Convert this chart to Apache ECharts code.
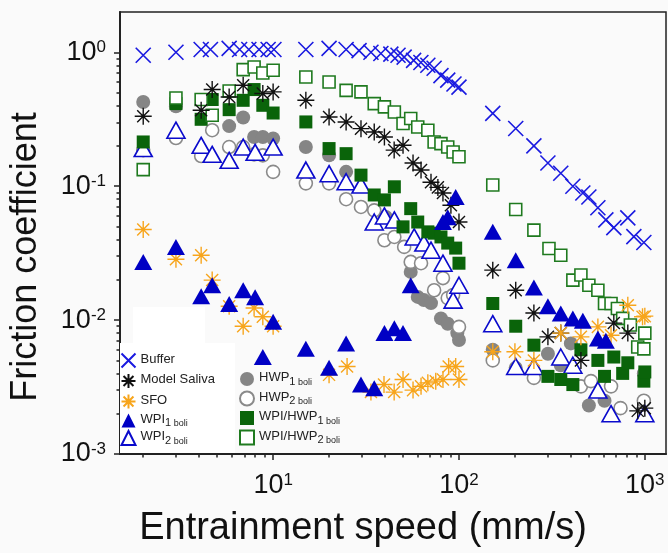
<!DOCTYPE html>
<html lang="en">
<head>
    <meta charset="UTF-8">
    <script src="https://cdn.jsdelivr.net/npm/echarts@6/dist/echarts.min.js"></script>
    <style>
        * {
            margin: 0;
            padding: 0;
        }

        body {
            background-color: #fafafa;
        }

        #main {
            width: 668px;
            height: 553px;
        }
    </style>
    <title>Friction coefficient</title>
</head>
<body>
<div id="main"></div>
<script>
    // [speed mm/s, friction coefficient]
    var buffer = [[2.0, 0.95], [3.0, 1.0], [4.1, 1.05], [4.6, 1.05], [5.8, 1.07], [6.6, 1.05], [7.4, 1.05], [8.4, 1.05],
        [9.4, 1.05], [10.1, 1.05], [15, 1.05], [20, 1.07], [24.7, 1.05], [29, 1.03], [33.6, 1.0], [38, 0.98], [43, 0.97],
        [47, 0.95], [50.7, 0.92], [57, 0.87], [62.4, 0.84], [68, 0.80], [73.5, 0.76], [80, 0.67], [87, 0.62], [94, 0.58],
        [100, 0.55], [152, 0.35], [202, 0.27], [253, 0.20], [301, 0.149], [353, 0.125], [410, 0.10], [464, 0.089],
        [500, 0.083], [559, 0.069], [617, 0.056], [681, 0.049], [810, 0.058], [873, 0.042], [988, 0.038]];

    var saliva = [[2.0, 0.333], [4.1, 0.369], [4.7, 0.527], [5.8, 0.464], [6.9, 0.567], [8.8, 0.492], [10, 0.506],
        [15, 0.438], [20, 0.329], [24.7, 0.302], [29.7, 0.269], [35, 0.254], [39.7, 0.233], [44.8, 0.186], [50, 0.202],
        [56.6, 0.149], [62.5, 0.132], [70.7, 0.107], [77, 0.098], [82, 0.089], [90.5, 0.072], [100, 0.054],
        [152, 0.0236], [202, 0.0167], [253, 0.0113], [301, 0.0075], [353, 0.0080], [453, 0.0050], [681, 0.0095],
        [810, 0.0080], [916, 0.0021], [1000, 0.0022]];

    var sfo = [[2.0, 0.0475], [3.0, 0.0285], [4.1, 0.0305], [4.7, 0.0199], [5.8, 0.0127], [6.9, 0.0090], [7.9, 0.0123],
        [8.8, 0.0106], [10, 0.0090], [20, 0.0039], [25, 0.0045], [33.6, 0.0029], [39.5, 0.0033], [44.8, 0.0029],
        [50, 0.0036], [56.6, 0.0030], [62.5, 0.0032], [68, 0.0034], [75, 0.0035], [82, 0.0036], [88, 0.0045],
        [96, 0.0045], [100, 0.0036], [152, 0.0058], [200, 0.0058], [253, 0.0050], [353, 0.0080], [453, 0.0075],
        [559, 0.0089], [658, 0.0077], [810, 0.0129], [972, 0.0106], [1000, 0.0107]];

    var wpi1 = [[2.0, 0.0272], [3.0, 0.0352], [4.1, 0.0151], [4.7, 0.0182], [5.8, 0.0132], [6.9, 0.0167], [8.0, 0.0148],
        [8.8, 0.0053], [10, 0.0097], [15, 0.0061], [20, 0.0044], [24.7, 0.0067], [29.7, 0.0033], [35, 0.0031],
        [39.7, 0.0080], [44.9, 0.0087], [50, 0.0080], [55, 0.0182], [82, 0.054], [87, 0.0587], [96, 0.083],
        [152, 0.0456], [202, 0.0280], [253, 0.0175], [301, 0.0127], [353, 0.0112], [410, 0.0103], [464, 0.0099],
        [559, 0.0073], [617, 0.0070]];

    var wpi2 = [[2.0, 0.191], [3.0, 0.262], [4.1, 0.202], [4.7, 0.173], [5.8, 0.156], [6.9, 0.196], [8.0, 0.179],
        [10, 0.196], [15, 0.132], [20, 0.124], [24.7, 0.108], [29.7, 0.102], [35, 0.054], [39.7, 0.060], [44.9, 0.056],
        [57.4, 0.0418], [64.7, 0.0376], [70.7, 0.0333], [82, 0.0266], [93, 0.0141], [100, 0.0182], [152, 0.0094],
        [202, 0.0045], [253, 0.0045], [353, 0.0053], [410, 0.0046], [559, 0.0030], [658, 0.0020], [1000, 0.0020]];

    var hwp1 = [[2.0, 0.426], [3.0, 0.395], [5.8, 0.281], [6.9, 0.326], [7.9, 0.233], [8.8, 0.233], [10, 0.227],
        [15, 0.196], [20, 0.170], [24.7, 0.128], [39.7, 0.059], [40.4, 0.059], [55, 0.0229], [60, 0.0149],
        [64.7, 0.0141], [70.7, 0.0134], [80, 0.0103], [87, 0.0094], [98, 0.0080], [100, 0.0071], [152, 0.0060],
        [202, 0.0044], [301, 0.0056], [353, 0.0046], [400, 0.0067], [500, 0.0023], [607, 0.0025], [988, 0.0040]];

    var hwp2 = [[2.0, 0.186], [3.0, 0.229], [4.1, 0.168], [4.7, 0.262], [5.8, 0.196], [6.9, 0.196], [7.9, 0.173],
        [8.8, 0.170], [10, 0.128], [15, 0.105], [20, 0.105], [24.7, 0.080], [29.7, 0.070], [35, 0.066], [39.7, 0.0395],
        [44.9, 0.0418], [50.7, 0.0352], [55, 0.0272], [62.5, 0.0266], [73.5, 0.0167], [82, 0.0206], [87, 0.0146],
        [93, 0.0154], [100, 0.0089], [152, 0.0050], [253, 0.0037], [453, 0.0032], [513, 0.0035], [658, 0.0032],
        [740, 0.0022], [988, 0.0025]];

    var mix1 = [[2.0, 0.214], [3.0, 0.414], [4.1, 0.316], [4.7, 0.444], [5.8, 0.373], [6.9, 0.438], [7.9, 0.527],
        [8.8, 0.402], [10, 0.352], [15, 0.302], [20, 0.191], [24.7, 0.175], [29.7, 0.121], [35, 0.086], [39.7, 0.079],
        [44.9, 0.099], [50, 0.0497], [55, 0.068], [60, 0.054], [68, 0.0456], [73.5, 0.0446], [80, 0.0418],
        [87, 0.0376], [96, 0.0345], [100, 0.0266], [152, 0.0133], [202, 0.0090], [253, 0.0065], [301, 0.0038],
        [353, 0.0036], [410, 0.0033], [453, 0.0060], [559, 0.0050], [607, 0.0038], [681, 0.0053], [760, 0.0040],
        [810, 0.0048], [988, 0.0035], [1000, 0.0041]];

    var mix2 = [[2.0, 0.133], [3.0, 0.456], [4.1, 0.444], [4.7, 0.339], [5.8, 0.514], [6.9, 0.743], [7.9, 0.777],
        [8.8, 0.701], [10, 0.734], [15, 0.654], [20, 0.600], [24.7, 0.520], [29.7, 0.506], [35, 0.414], [39.7, 0.391],
        [44.9, 0.358], [50, 0.294], [55, 0.320], [60, 0.277], [68, 0.262], [73.5, 0.214], [80, 0.208], [87, 0.196],
        [93, 0.180], [100, 0.166], [152, 0.102], [202, 0.067], [253, 0.047], [305, 0.0343], [353, 0.0305],
        [410, 0.0199], [453, 0.0217], [500, 0.0182], [559, 0.0167], [607, 0.0133], [658, 0.0133], [712, 0.0122],
        [760, 0.0103], [836, 0.0092], [916, 0.0063], [988, 0.0061], [1000, 0.0080]];

    var xMajor = [10, 100, 1000];
    var xMinor = [2, 3, 4, 5, 6, 7, 8, 9, 20, 30, 40, 50, 60, 70, 80, 90, 200, 300, 400, 500, 600, 700, 800, 900];
    var yMajor = [0.001, 0.01, 0.1, 1];
    var yMinor = [0.002, 0.003, 0.004, 0.005, 0.006, 0.007, 0.008, 0.009, 0.02, 0.03, 0.04, 0.05, 0.06, 0.07, 0.08,
        0.09, 0.2, 0.3, 0.4, 0.5, 0.6, 0.7, 0.8, 0.9];

    var crossPath = 'path://M0,0L10,10M10,0L0,10';
    var starPath = 'path://M5,0L5,10M0,5L10,5M1.46,1.46L8.54,8.54M8.54,1.46L1.46,8.54';

    var legendNames = {
        'Buffer': '{a|Buffer}',
        'Model Saliva': '{a|Model Saliva}',
        'SFO': '{a|SFO}',
        'WPI1': '{a|WPI}{n|1}{s| boli}',
        'WPI2': '{a|WPI}{n|2}{s| boli}',
        'HWP1': '{a|HWP}{n|1}{s| boli}',
        'HWP2': '{a|HWP}{n|2}{s| boli}',
        'WPI/HWP1': '{a|WPI/HWP}{n|1}{s| boli}',
        'WPI/HWP2': '{a|WPI/HWP}{n|2}{s| boli}'
    };

    function powLabel(v) {
        var e = Math.round(Math.log10(v));
        return '{b|10}{s|' + e + '}';
    }

    var labelRich = {
        b: {fontSize: 27, fontFamily: 'Liberation Sans', color: '#111', verticalAlign: 'bottom'},
        s: {fontSize: 17, fontFamily: 'Liberation Sans', color: '#111', verticalAlign: 'top'}
    };

    var legendText = {
        fontSize: 13,
        fontFamily: 'Liberation Sans',
        color: '#222',
        lineHeight: 16,
        rich: {
            a: {fontSize: 13, fontFamily: 'Liberation Sans', color: '#222', lineHeight: 16, verticalAlign: 'top'},
            n: {fontSize: 11, fontFamily: 'Liberation Sans', color: '#222', lineHeight: 12, verticalAlign: 'bottom'},
            s: {fontSize: 9, fontFamily: 'Liberation Sans', color: '#222', lineHeight: 11, verticalAlign: 'bottom'}
        }
    };

    function scatter(name, data, symbol, size, fill, stroke, bw) {
        return {
            name: name,
            type: 'scatter',
            data: data,
            symbol: symbol,
            symbolSize: size,
            itemStyle: {color: fill, borderColor: stroke, borderWidth: bw, opacity: 1},
            emphasis: {disabled: true}
        };
    }

    var myChart = echarts.init(document.getElementById('main'));
    var option = {
        backgroundColor: '#fafafa',
        animation: false,
        grid: {
            left: 118, right: 2, top: 12, bottom: 99,
            show: true, borderColor: '#222', borderWidth: 1.5, backgroundColor: 'transparent'
        },
        graphic: [
            {type: 'rect', z: 3, shape: {x: 133, y: 307, width: 72, height: 37}, style: {fill: '#ffffff'}},
            {type: 'rect', z: 3, shape: {x: 120, y: 343, width: 115, height: 110}, style: {fill: '#ffffff'}}
        ],
        xAxis: [{
            type: 'log', min: 1.5, max: 1300, position: 'bottom',
            name: 'Entrainment speed (mm/s)', nameLocation: 'middle', nameGap: 56,
            nameTextStyle: {fontSize: 38, fontFamily: 'Liberation Sans', color: '#111', padding: [0, 60, 0, 0]},
            axisLine: {lineStyle: {color: '#222', width: 2}},
            axisTick: {show: true, length: 6, inside: false, customValues: xMajor, lineStyle: {color: '#222', width: 1.5}},
            axisLabel: {customValues: xMajor, formatter: powLabel, rich: labelRich, margin: 18},
            splitLine: {show: false}, minorTick: {show: false}
        }, {
            type: 'log', min: 1.5, max: 1300, position: 'bottom',
            axisLine: {show: false},
            axisTick: {show: true, length: 3.5, customValues: xMinor, lineStyle: {color: '#222', width: 1.5}},
            axisLabel: {show: false},
            splitLine: {show: false}
        }],
        yAxis: [{
            type: 'log', min: 0.001, max: 2, position: 'left',
            name: 'Friction coefficient', nameLocation: 'middle', nameGap: 76,
            nameTextStyle: {fontSize: 36, fontFamily: 'Liberation Sans', color: '#111', padding: [0, 48, 0, 0]},
            axisLine: {lineStyle: {color: '#222', width: 2}},
            axisTick: {show: true, length: 6, customValues: yMajor, lineStyle: {color: '#222', width: 1.5}},
            axisLabel: {customValues: yMajor, formatter: powLabel, rich: labelRich, margin: 14},
            splitLine: {show: false}
        }, {
            type: 'log', min: 0.001, max: 2, position: 'left',
            axisLine: {show: false},
            axisTick: {show: true, length: 3.5, customValues: yMinor, lineStyle: {color: '#222', width: 1.5}},
            axisLabel: {show: false},
            splitLine: {show: false}
        }],
        legend: [{
            left: 119, top: 351, orient: 'vertical', itemWidth: 14, itemHeight: 14, itemGap: 1.5,
            padding: 0, z: 5,
            data: ['Buffer', 'Model Saliva', 'SFO', 'WPI1', 'WPI2'],
            formatter: function (n) { return legendNames[n]; },
            textStyle: legendText
        }, {
            left: 239, top: 371, orient: 'vertical', itemWidth: 14, itemHeight: 14, itemGap: 3.5,
            padding: 0, z: 5,
            data: ['HWP1', 'HWP2', 'WPI/HWP1', 'WPI/HWP2'],
            formatter: function (n) { return legendNames[n]; },
            textStyle: legendText
        }],
        series: [
            scatter('Buffer', buffer, crossPath, 15, 'none', '#1a1ae0', 1.6),
            scatter('HWP1', hwp1, 'circle', 14, '#858585', '#858585', 0),
            scatter('HWP2', hwp2, 'circle', 13, '#ffffff', '#8a8a8a', 1.6),
            scatter('WPI2', wpi2, 'triangle', [18, 16], '#ffffff', '#0a0acc', 1.6),
            scatter('WPI/HWP1', mix1, 'rect', 13, '#0a640a', '#0a640a', 0),
            scatter('WPI/HWP2', mix2, 'rect', 12, '#ffffff', '#1f7a1f', 1.6),
            scatter('Model Saliva', saliva, starPath, 17, 'none', '#111111', 1.4),
            scatter('SFO', sfo, starPath, 17, 'none', '#f7a51c', 1.4),
            scatter('WPI1', wpi1, 'triangle', [18, 16], '#0000c4', '#0000c4', 0)
        ]
    };
    myChart.setOption(option);
</script>
</body>
</html>
